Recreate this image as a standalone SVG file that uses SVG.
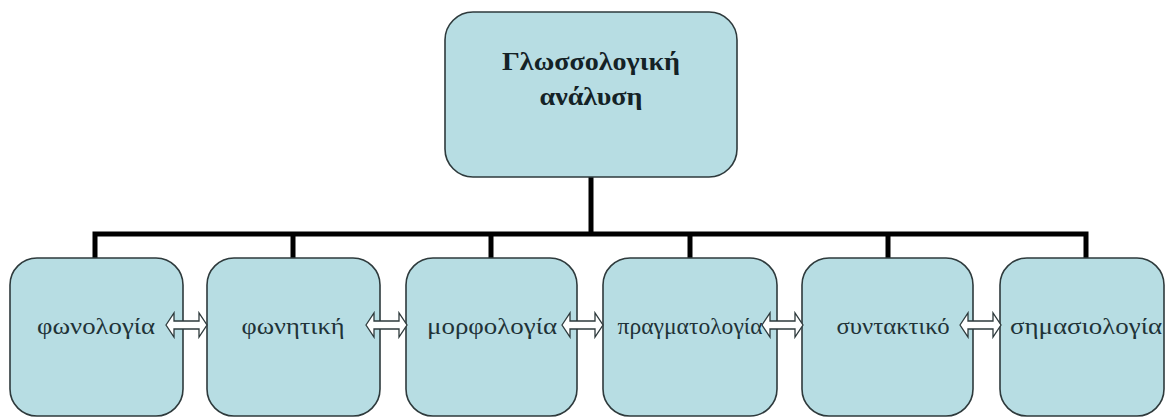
<svg xmlns="http://www.w3.org/2000/svg" width="1168" height="418" viewBox="0 0 1168 418">
  <style>
    .box { fill: #b7dde3; stroke: #2e3a3c; stroke-width: 1.6; }
    .lbl { font-family: "Liberation Serif", "DejaVu Serif", serif; font-size: 24px; fill: #1f3338; text-anchor: middle; }
    .ttl { font-family: "Liberation Serif", "DejaVu Serif", serif; font-size: 26px; font-weight: bold; fill: #142226; text-anchor: middle; }
    .wire { fill: none; stroke: #000; stroke-width: 5; }
    .dbl { fill: #ffffff; stroke: #2e3a3c; stroke-width: 1.3; stroke-linejoin: miter; }
  </style>
  <defs>
    <!-- white double-headed block arrow, 41 wide, centred on y=0 -->
    <path id="dblArrow" class="dbl" d="M0,0 L8,-12 L8,-4 L33,-4 L33,-12 L41,0 L33,12 L33,4 L8,4 L8,12 Z"/>
  </defs>

  <!-- tree connectors -->
  <g id="connectors">
    <path class="wire" d="M591,177 V234"/>
    <path class="wire" d="M95,258 V234 H1086 V258"/>
    <path class="wire" d="M293,234 V258"/>
    <path class="wire" d="M491,234 V258"/>
    <path class="wire" d="M690,234 V258"/>
    <path class="wire" d="M888,234 V258"/>
  </g>

  <g id="root">
    <rect class="box" x="445" y="12" width="292" height="165" rx="28" ry="28"/>
    <text class="ttl" x="591" y="70" textLength="178" lengthAdjust="spacingAndGlyphs">Γλωσσολογική</text>
    <text class="ttl" x="591" y="105" textLength="103" lengthAdjust="spacingAndGlyphs">ανάλυση</text>
  </g>

  <g id="n-fonologia">
    <rect class="box" x="10" y="258" width="173" height="158" rx="27" ry="27"/>
    <text class="lbl" x="96" y="334" textLength="118" lengthAdjust="spacingAndGlyphs">φωνολογία</text>
  </g>
  <g id="n-fonitiki">
    <rect class="box" x="207" y="258" width="173" height="158" rx="27" ry="27"/>
    <text class="lbl" x="293" y="334" textLength="103" lengthAdjust="spacingAndGlyphs">φωνητική</text>
  </g>
  <g id="n-morfologia">
    <rect class="box" x="406" y="258" width="171" height="158" rx="27" ry="27"/>
    <text class="lbl" x="492" y="334" textLength="130" lengthAdjust="spacingAndGlyphs">μορφολογία</text>
  </g>
  <g id="n-pragmatologia">
    <rect class="box" x="603" y="258" width="174" height="158" rx="27" ry="27"/>
    <text class="lbl" x="690" y="334" textLength="145" lengthAdjust="spacingAndGlyphs">πραγματολογία</text>
  </g>
  <g id="n-syntaktiko">
    <rect class="box" x="802" y="258" width="171" height="158" rx="27" ry="27"/>
    <text class="lbl" x="893" y="334" textLength="113" lengthAdjust="spacingAndGlyphs">συντακτικό</text>
  </g>
  <g id="n-simasiologia">
    <rect class="box" x="1000" y="258" width="164" height="158" rx="27" ry="27"/>
    <text class="lbl" x="1086" y="334" textLength="152" lengthAdjust="spacingAndGlyphs">σημασιολογία</text>
  </g>

  <!-- links between neighbouring fields -->
  <g id="links">
    <use href="#dblArrow" x="166" y="325"/>
    <use href="#dblArrow" x="366" y="325"/>
    <use href="#dblArrow" x="562" y="325"/>
    <use href="#dblArrow" x="762" y="325"/>
    <use href="#dblArrow" x="960" y="325"/>
  </g>
</svg>
